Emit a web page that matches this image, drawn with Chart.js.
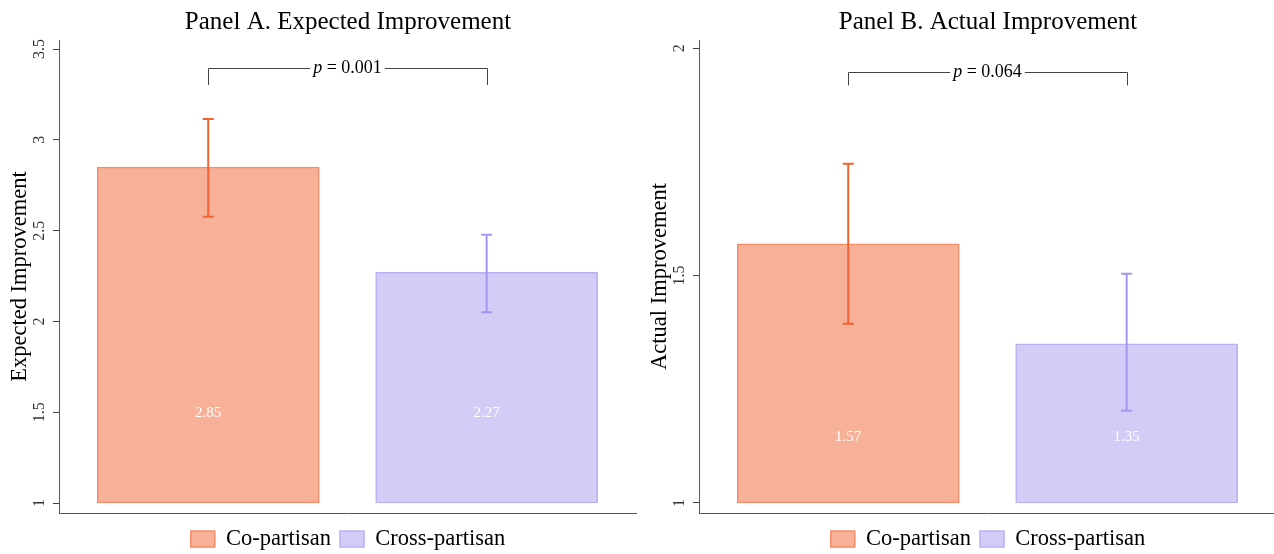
<!DOCTYPE html>
<html>
<head>
<meta charset="utf-8">
<script src="https://cdn.jsdelivr.net/npm/chart.js@4"></script>
<style>
  html, body { margin: 0; padding: 0; background: #fff; overflow: hidden; }
  #wrap { position: relative; width: 1274px; height: 554px; }
  canvas { position: absolute; top: 0; }
</style>
</head>
<body>
<div id="wrap">
  <canvas id="panelA" width="637" height="554" style="left:0"></canvas>
  <canvas id="panelB" width="637" height="554" style="left:640px"></canvas>
</div>
<script>
// data
var groups = ["Co-partisan", "Cross-partisan"];

var expMean = [2.85, 2.27];
var expLow = [2.577, 2.05];
var expHigh = [3.115, 2.478];
var expTicks = [1, 1.5, 2, 2.5, 3, 3.5];
var expP = "0.001";

var actMean = [1.57, 1.35];
var actLow = [1.394, 1.203];
var actHigh = [1.746, 1.504];
var actTicks = [1, 1.5, 2];
var actP = "0.064";

var fills = ["#F7B199", "#D2CCF6"];
var borders = ["#F58A66", "#BAAFF2"];
var whiskers = ["#F4632F", "#A596EF"];
var serif = "'Liberation Serif', 'Times New Roman', serif";

// error bars, p-value bracket, bar labels, y tick labels and y title
var extras = {
    id: "extras",
    afterDatasetsDraw: function (chart, args, o) {
        var ctx = chart.ctx, xs = chart.scales.x, ys = chart.scales.y;
        ctx.save();
        // whiskers
        for (var i = 0; i < o.mean.length; i++) {
            var px = xs.getPixelForValue(i + 1);
            var top = ys.getPixelForValue(o.high[i]);
            var bot = ys.getPixelForValue(o.low[i]);
            ctx.strokeStyle = whiskers[i];
            ctx.lineWidth = 2;
            ctx.beginPath();
            ctx.moveTo(px, top); ctx.lineTo(px, bot);
            ctx.moveTo(px - 5.5, top); ctx.lineTo(px + 5.5, top);
            ctx.moveTo(px - 5.5, bot); ctx.lineTo(px + 5.5, bot);
            ctx.stroke();
            // value label
            ctx.fillStyle = "#ffffff";
            ctx.font = "15px " + serif;
            ctx.textAlign = "center";
            ctx.textBaseline = "middle";
            ctx.fillText(o.mean[i].toFixed(2), px, ys.getPixelForValue(o.labelAt));
        }
        // bracket
        var x1 = Math.round(xs.getPixelForValue(1)), x2 = Math.round(xs.getPixelForValue(2));
        var yb = Math.round(ys.getPixelForValue(o.bracket)) + 0.5;
        var yf = ys.getPixelForValue(o.foot);
        ctx.strokeStyle = "#444";
        ctx.lineWidth = 1;
        ctx.beginPath();
        ctx.moveTo(x1 + 0.5, yf); ctx.lineTo(x1 + 0.5, yb); ctx.lineTo(x2 + 0.5, yb); ctx.lineTo(x2 + 0.5, yf);
        ctx.stroke();
        ctx.font = "italic 18px " + serif;
        var wP = ctx.measureText("p").width;
        ctx.font = "18px " + serif;
        var rest = " = " + o.p;
        var wR = ctx.measureText(rest).width;
        var cx = (x1 + x2) / 2, start = cx - (wP + wR) / 2;
        ctx.fillStyle = "#fff";
        ctx.fillRect(start - 3, yb - 10, wP + wR + 6, 20);
        ctx.fillStyle = "#000";
        ctx.textAlign = "left";
        ctx.font = "italic 18px " + serif;
        ctx.fillText("p", start, yb);
        ctx.font = "18px " + serif;
        ctx.fillText(rest, start + wP, yb);
        // y tick labels, rotated
        ctx.fillStyle = "#333";
        ctx.font = "16px " + serif;
        ctx.textAlign = "center";
        o.ticks.forEach(function (t) {
            ctx.save();
            ctx.translate(40, ys.getPixelForValue(t));
            ctx.rotate(-Math.PI / 2);
            ctx.fillText(String(t), 0, 0);
            ctx.restore();
        });
        // y axis title
        ctx.save();
        ctx.translate(20, (chart.chartArea.top + chart.chartArea.bottom) / 2);
        ctx.rotate(-Math.PI / 2);
        ctx.fillStyle = "#000";
        ctx.font = "22.5px " + serif;
        ctx.fillText(o.yTitle, 0, 0);
        ctx.restore();
        ctx.restore();
    }
};

function makePanel(id, title, yTitle, mean, low, high, ticks, p, ymin, ymax, labelAt, bracket, foot) {
    var datasets = groups.map(function (g, i) {
        return {
            label: g,
            data: [{ x: i + 1, y: [1, mean[i]] }],
            backgroundColor: fills[i],
            borderColor: borders[i],
            borderWidth: 1.5,
            borderSkipped: false,
            barThickness: 222,
            grouped: false
        };
    });
    return new Chart(document.getElementById(id).getContext("2d"), {
        type: "bar",
        data: { datasets: datasets },
        plugins: [extras],
        options: {
            responsive: false,
            animation: false,
            layout: { padding: { top: 0, left: 0, right: 0, bottom: -6.25 } },
            scales: {
                x: {
                    type: "linear",
                    offset: false,
                    min: 0.464,
                    max: 2.54,
                    ticks: { display: false },
                    grid: { display: false, offset: false },
                    border: { display: true, color: "#555", width: 1 },
                    afterFit: function (s) { s.height = 5.75; }
                },
                y: {
                    min: ymin,
                    max: ymax,
                    afterBuildTicks: function (s) { s.ticks = ticks.map(function (v) { return { value: v }; }); },
                    ticks: { display: false },
                    grid: { drawOnChartArea: false, drawTicks: true, tickLength: 6, color: "#444" },
                    border: { display: true, color: "#555", width: 1 },
                    afterFit: function (s) { s.width = 59; }
                }
            },
            plugins: {
                tooltip: { enabled: false },
                title: {
                    display: true,
                    text: title,
                    fullSize: false,
                    color: "#000",
                    font: { family: serif, size: 25, weight: "normal" },
                    padding: { top: 7, bottom: 3 }
                },
                legend: {
                    position: "bottom",
                    fullSize: false,
                    labels: {
                        color: "#000",
                        font: { family: serif, size: 22.5 },
                        boxWidth: 24,
                        boxHeight: 16,
                        padding: 9
                    }
                },
                extras: {
                    mean: mean, low: low, high: high, ticks: ticks, p: p,
                    labelAt: labelAt, bracket: bracket, foot: foot, yTitle: yTitle
                }
            }
        }
    });
}

makePanel("panelA", "Panel A. Expected Improvement", "Expected Improvement",
    expMean, expLow, expHigh, expTicks, expP, 0.945, 3.55, 1.495, 3.396, 3.302);
makePanel("panelB", "Panel B. Actual Improvement", "Actual Improvement",
    actMean, actLow, actHigh, actTicks, actP, 0.978, 2.018, 1.145, 1.947, 1.918);
</script>
</body>
</html>
